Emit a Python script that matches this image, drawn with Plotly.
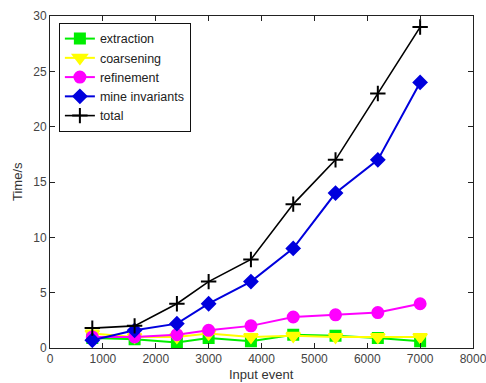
import plotly.graph_objects as go

input_event = [800, 1600, 2400, 3000, 3800, 4600, 5400, 6200, 7000]
extraction = [0.9, 0.8, 0.5, 0.9, 0.6, 1.2, 1.1, 0.9, 0.6]
coarsening = [1.3, 1.0, 1.0, 1.3, 1.0, 1.1, 1.0, 1.0, 1.0]
refinement = [1.0, 1.0, 1.2, 1.6, 2.0, 2.8, 3.0, 3.2, 4.0]
mine_invariants = [0.7, 1.6, 2.2, 4.0, 6.0, 9.0, 14.0, 17.0, 24.0]
total = [1.8, 2.0, 4.0, 6.0, 8.0, 13.0, 17.0, 23.0, 29.0]

x_ticks = [0, 1000, 2000, 3000, 4000, 5000, 6000, 7000, 8000]
y_ticks = [0, 5, 10, 15, 20, 25, 30]

fig = go.Figure()
series = [
    ("extraction", extraction, "#00ee00", "square", 10, 2),
    ("coarsening", coarsening, "#ffff00", "triangle-down", 12, 2),
    ("refinement", refinement, "#ff00ff", "circle", 11, 2),
    ("mine invariants", mine_invariants, "#0000dd", "diamond", 10, 2),
    ("total", total, "#000000", "cross-thin", 11, 1.6),
]
for name, vals, color, sym, size, lw in series:
    fig.add_trace(go.Scatter(
        x=input_event, y=vals, name=name, mode="lines+markers",
        line=dict(color=color, width=lw),
        marker=dict(symbol=sym, size=size, color=color,
                    line=dict(color=color, width=2)),
    ))

axis_common = dict(
    showgrid=False, zeroline=False, showline=True, linecolor="#222222",
    linewidth=1, mirror="ticks", ticks="inside", ticklen=5,
    tickcolor="#222222", automargin=False, ticklabeloverflow="allow",
    tickfont=dict(family="Liberation Sans", size=12, color="#444444"),
)
L, R, T, B = 50, 13, 16, 35
W, H = 486, 383
plot_w = W - L - R
plot_h = H - T - B

fig.update_layout(
    width=W, height=H,
    margin=dict(l=L, r=R, t=T, b=B),
    paper_bgcolor="white", plot_bgcolor="white",
    font=dict(family="Liberation Sans", size=12, color="#333333"),
    xaxis=dict(range=[0, 8000], tickvals=x_ticks, **axis_common),
    yaxis=dict(range=[0, 30], tickvals=y_ticks, **axis_common),
    legend=dict(x=0.021, y=0.979, xanchor="left", yanchor="top",
                bgcolor="white", bordercolor="#111111", borderwidth=1,
                font=dict(family="Liberation Sans", size=12.5, color="#222222"),
                tracegroupgap=0, itemwidth=30),
    showlegend=True,
    annotations=[
        dict(text="Input event", xref="paper", yref="paper",
             x=(261 - L) / plot_w, y=(H - B - 374) / plot_h,
             xanchor="center", yanchor="middle",
             showarrow=False, font=dict(size=13, color="#333333")),
        dict(text="Time/s", xref="paper", yref="paper",
             x=(17 - L) / plot_w, y=(H - B - 182) / plot_h,
             xanchor="center", yanchor="middle", textangle=-90,
             showarrow=False, font=dict(size=13, color="#333333")),
    ],
)
fig.write_html("out.html", config={"displayModeBar": False},
               post_script="document.body.style.margin='0';document.body.style.padding='0';")
